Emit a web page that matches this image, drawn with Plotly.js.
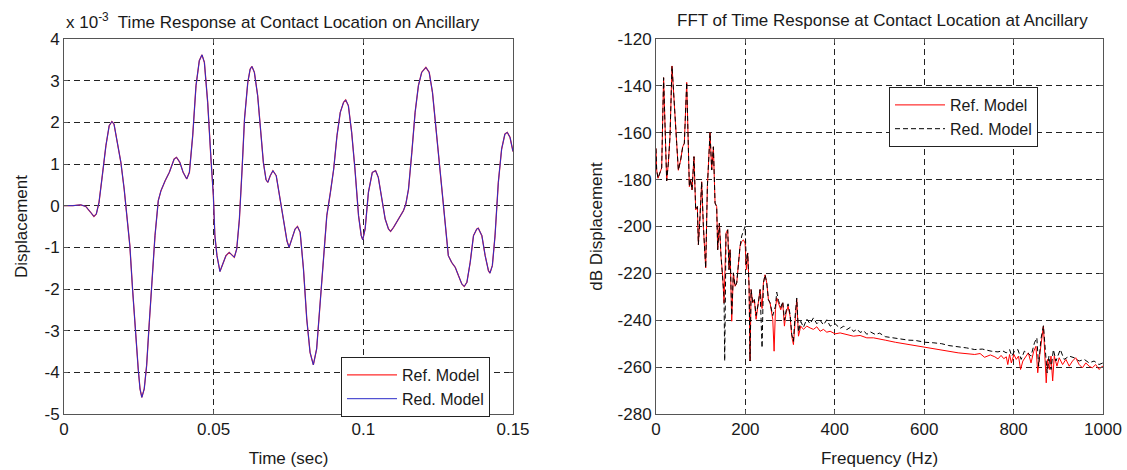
<!DOCTYPE html>
<html>
<head>
<meta charset="utf-8">
<script src="https://cdn.plot.ly/plotly-3.0.1.min.js"></script>
<style>
html,body{margin:0;padding:0;background:#fff;}
#chart{width:1127px;height:470px;}
</style>
</head>
<body>
<div id="chart"></div>
<script>
// ---------- Left panel: time response (values in units of 1e-3) ----------
const timeSec = [0,0.003,0.0056,0.0073,0.0089,0.0100,0.0108,0.0117,0.0128,0.0140,0.0151,0.0160,0.0167,0.0179,0.0190,0.0201,0.0212,0.0220,0.0229,0.0238,0.0248,0.0254,0.0260,0.0268,0.0276,0.0285,0.0294,0.0304,0.0315,0.0324,0.0338,0.0352,0.0368,0.0376,0.0387,0.0398,0.0410,0.0419,0.0430,0.0441,0.0452,0.0461,0.0469,0.0480,0.0491,0.0499,0.0504,0.0511,0.0521,0.0530,0.0541,0.0552,0.0564,0.0569,0.0577,0.0586,0.0595,0.0603,0.0614,0.0622,0.0628,0.0636,0.0647,0.0656,0.0666,0.0675,0.0681,0.0689,0.0698,0.0709,0.0720,0.0731,0.0738,0.0745,0.0752,0.0761,0.0772,0.0780,0.0789,0.0800,0.0811,0.0822,0.0833,0.0844,0.0856,0.0867,0.0878,0.0890,0.0901,0.0912,0.0923,0.0934,0.0941,0.0950,0.0961,0.0972,0.0984,0.0993,0.0998,0.1006,0.1017,0.1030,0.1041,0.1050,0.1062,0.1073,0.1084,0.1091,0.1101,0.1117,0.1134,0.1142,0.1151,0.1162,0.1173,0.1184,0.1195,0.1209,0.1220,0.1231,0.1242,0.1253,0.1264,0.1275,0.1284,0.1295,0.1307,0.1318,0.1329,0.1337,0.1346,0.1357,0.1368,0.1379,0.1384,0.1396,0.1407,0.1418,0.1423,0.1431,0.1440,0.1451,0.1462,0.1473,0.1481,0.1490,0.1500];
const dispRef = [0,0,0.02,-0.02,-0.16,-0.26,-0.20,0.08,0.72,1.44,1.92,2.02,1.96,1.52,1.04,0.40,-0.40,-0.96,-2.00,-2.96,-3.92,-4.40,-4.60,-4.40,-3.84,-2.80,-1.76,-0.72,0.12,0.36,0.60,0.80,1.12,1.16,1.04,0.80,0.64,0.80,1.68,2.88,3.48,3.62,3.44,2.48,1.12,0.24,-0.72,-1.20,-1.58,-1.40,-1.20,-1.12,-1.22,-1.24,-1.04,-0.32,0.88,2.08,2.96,3.28,3.34,3.20,2.64,1.92,1.04,0.62,0.56,0.72,0.84,0.72,0.24,-0.30,-0.50,-0.85,-1.00,-0.80,-0.56,-0.50,-0.64,-1.52,-2.72,-3.52,-3.82,-3.44,-2.32,-1.20,-0.24,0.32,0.88,1.68,2.24,2.48,2.54,2.40,1.76,0.88,-0.24,-0.72,-0.82,-0.56,0.32,0.80,0.84,0.68,0.16,-0.32,-0.56,-0.62,-0.52,-0.32,-0.12,0.04,0.40,1.28,2.24,2.88,3.20,3.32,3.20,2.72,1.92,1.04,0.16,-0.64,-1.20,-1.36,-1.48,-1.68,-1.88,-1.94,-1.84,-1.36,-0.72,-0.56,-0.54,-0.72,-1.20,-1.56,-1.62,-1.44,-0.72,0.56,1.36,1.72,1.76,1.64,1.30];
const dispRed = dispRef.slice(); // reduced model overlays the reference curve

const leftXTicks = [0, 0.05, 0.1, 0.15];
const leftXTickText = ['0', '0.05', '0.1', '0.15'];
const leftYTicks = [-5, -4, -3, -2, -1, 0, 1, 2, 3, 4];
const leftYTickText = ['-5', '-4', '-3', '-2', '-1', '0', '1', '2', '3', '4'];

// ---------- Right panel: FFT ----------
const freqRef = [0,1.5,4.5,9,12.7,17,20,23.9,27.6,31.3,35.8,40.3,46.3,50,55.2,59.7,63.4,68.7,72.4,74.6,77.6,80.6,85,88.8,92.5,94.8,98.5,102.2,106,111.2,114.9,120.9,124.6,128.4,132.1,135.8,138,141.8,145.5,149.3,152.2,156.7,160.4,163.4,165.7,169.4,173.1,176.9,180.6,184.3,188,191.8,195.5,199.3,202.2,205.2,208.2,210.4,212.7,216.4,220.1,223.9,229.1,232.8,237.3,240.3,244,247.8,251.5,255.2,261.2,264.2,267.2,270.1,273.9,279.1,283.6,287.3,291,295.5,300,303.7,307.5,310.4,314.9,318.7,323.9,329.9,337.3,344.8,352.2,359.7,367.2,374.6,382.1,389.6,400.7,411.9,426.9,441.8,456.7,471.6,486.6,501.5,513,535.6,565,600,639,676,713,725,735,743,748,758,765,772,778,783.7,787,791,795,800.7,806,811,815.6,820.7,828,833,839,845,850,854,859,863,866.7,870,873,876,880,883.7,887.4,891,897,902,909.6,917,924.4,931.8,939,946.7,954,961.5,969,976,983.7,991,998.5,1000];
const dbRef = [-166.7,-175.9,-179.4,-177,-175,-136.5,-161.7,-180.5,-173,-161.7,-131.5,-147.5,-164.5,-176,-171.6,-166,-164.5,-138.5,-161.7,-183,-180.1,-184.4,-170.2,-192.9,-191.5,-207.8,-195.7,-180.9,-200,-217.7,-183,-160,-175.9,-166,-190,-191.5,-209.9,-198.6,-212.8,-221.3,-232.6,-202.8,-201.4,-218.4,-209.9,-240.4,-219.8,-225.5,-224.1,-215.6,-208.5,-206.4,-205.7,-207.1,-218.4,-211.3,-225.5,-257.4,-226.9,-232.6,-231.2,-239.6,-232.6,-226.9,-235,-224.1,-220.6,-224.1,-231.2,-232.6,-239.6,-253.2,-235.5,-230.5,-232.6,-235.5,-232.6,-242.5,-236.9,-234,-238.3,-246.8,-250.4,-241.1,-231,-246.8,-242.5,-243.9,-242.5,-243.3,-243.9,-242.8,-244.7,-243.9,-245.1,-244.7,-245.8,-245.4,-246.1,-246.8,-246.5,-247.5,-247.5,-248.2,-248.5,-249.4,-250.4,-251.3,-252.8,-253.9,-254.6,-254.2,-255.8,-255.3,-254.8,-255.6,-256.5,-255,-256.4,-255.6,-258.9,-254.6,-258.2,-254.6,-256.7,-255.3,-261,-257.4,-255.3,-253.9,-258.2,-253.2,-251.1,-262.4,-253.9,-246.8,-242.5,-255.3,-266.7,-256.7,-261,-255.3,-265.9,-255.3,-259.6,-256,-258.9,-256.7,-259.6,-257.4,-256,-258.9,-260.3,-258.2,-259.6,-260.3,-258.9,-261,-259.6,-260];

const freqRed = [0,1.5,4.5,9,12.7,17,20,23.9,27.6,31.3,35.8,40.3,46.3,50,55.2,59.7,63.4,68.7,72.4,74.6,77.6,80.6,85,88.8,92.5,94.8,98.5,102.2,106,111.2,114.9,120.9,124.6,128.4,132.1,135.8,138,141.8,145.5,149.3,152.2,153.7,155,156.7,160.4,163.4,165.7,169.4,173.1,176.9,180.6,184.3,188,191.8,195.5,199.3,202.2,205.2,208.2,210.4,212.7,216.4,220.1,223.9,229.1,232.8,237.3,240.3,244,247.8,251.5,255.2,261.2,264.2,267.2,270.1,273.9,279.1,283.6,287.3,291,295.5,300,303.7,307.5,310.4,314.9,318.7,323.9,329.9,337.3,344.8,352.2,359.7,367.2,374.6,382.1,389.6,400.7,411.9,420,426.9,435,441.8,450,456.7,465,471.6,480,491,500,513,528,545,565,580,602,620,639,655,676,695,713,730,750,765,775,783.7,791,796,802,809.6,817,824,831.6,839,846.7,852,856,861,866.7,871,875,879,883.7,889,894.8,904.4,913,924.4,935.5,946.7,958,969,980,991,1000];
const dbRed = [-166.7,-175.9,-179.4,-177,-175,-136.5,-161.7,-180.5,-173,-161.7,-131.5,-147.5,-164.5,-176,-171.6,-166,-164.5,-138.5,-161.7,-183,-180.1,-184.4,-170.2,-192.9,-191.5,-207.8,-195.7,-180.9,-200,-217.7,-183,-160,-175.9,-166,-190,-191.5,-209.9,-198.6,-212.8,-221.3,-230,-257.4,-215,-202.8,-201.4,-218.4,-209.9,-238,-219.8,-225.5,-224.1,-215.6,-208.5,-204,-202,-200,-216,-211.3,-225.5,-257.4,-226.9,-232.6,-231.2,-238,-232.6,-226.9,-251.8,-224.1,-220.6,-224.1,-231.2,-232.6,-238,-236,-234,-228,-231.5,-234.5,-232,-240,-236,-233,-237.5,-246,-249,-240,-230.5,-245,-240.5,-243,-239.5,-241.5,-239,-241.5,-240,-242,-239.8,-242.5,-241.5,-243.5,-242.5,-244,-243,-244.8,-243.8,-245.2,-244.5,-246,-245,-246.1,-245.5,-247,-247.5,-247.8,-248.5,-248.6,-249.4,-249.6,-250,-250.8,-251.3,-251.8,-252.5,-252.3,-253.2,-253.5,-253,-253.9,-252.5,-255.3,-253.2,-252.5,-256.7,-253.2,-253.9,-255.3,-249.6,-247.5,-259.6,-248.2,-242.3,-252.5,-262.4,-255.3,-261,-252.5,-257.4,-252.5,-256.7,-255.3,-256,-257.4,-256.7,-258.2,-257.4,-258.9,-258.2];

const rightXTicks = [0, 200, 400, 600, 800, 1000];
const rightXTickText = ['0', '200', '400', '600', '800', '1000'];
const rightYTicks = [-280, -260, -240, -220, -200, -180, -160, -140, -120];
const rightYTickText = ['-280', '-260', '-240', '-220', '-200', '-180', '-160', '-140', '-120'];

const FONT = 'Liberation Sans, Arial, Helvetica, sans-serif';
const TXT = '#1a1a1a';

const traces = [
  {x: timeSec, y: dispRef, type: 'scatter', mode: 'lines', name: 'Ref. Model',
   line: {color: '#ff2a2a', width: 1.3}, xaxis: 'x', yaxis: 'y', legend: 'legend'},
  {x: timeSec, y: dispRed, type: 'scatter', mode: 'lines', name: 'Red. Model',
   line: {color: '#2a2ac8', width: 1}, xaxis: 'x', yaxis: 'y', legend: 'legend'},
  {x: freqRef, y: dbRef, type: 'scatter', mode: 'lines', name: 'Ref. Model',
   line: {color: '#ff0000', width: 1}, xaxis: 'x2', yaxis: 'y2', legend: 'legend2'},
  {x: freqRed, y: dbRed, type: 'scatter', mode: 'lines', name: 'Red. Model',
   line: {color: '#000000', width: 1, dash: '5px,3px'}, xaxis: 'x2', yaxis: 'y2', legend: 'legend2'}
];

const W = 1039; // plotting width
function axisBase() {
  return {
    showline: true, mirror: 'allticks', linecolor: '#555', linewidth: 1,
    ticks: 'inside', ticklen: 4, tickcolor: '#555',
    showgrid: true, gridcolor: '#222', gridwidth: 1, griddash: '6px,4px',
    zeroline: false, tickmode: 'array', automargin: true,
    tickfont: {family: FONT, size: 17, color: TXT}
  };
}
const legendBase = {
  bgcolor: '#ffffff', bordercolor: '#222', borderwidth: 1,
  font: {family: FONT, size: 16, color: TXT}, itemwidth: 50, tracegroupgap: 0
};
const layout = {
  width: 1127, height: 470,
  margin: {l: 64, r: 24, t: 39, b: 56},
  paper_bgcolor: '#ffffff', plot_bgcolor: '#ffffff',
  font: {family: FONT, size: 17, color: TXT},
  xaxis: Object.assign(axisBase(), {domain: [0, 449 / W], range: [0, 0.15], anchor: 'y',
    automargin: 'left', tickvals: leftXTicks, ticktext: leftXTickText,
    title: {text: 'Time (sec)', standoff: 13, font: {family: FONT, size: 17, color: TXT}}}),
  yaxis: Object.assign(axisBase(), {domain: [0, 1], range: [-5, 4], anchor: 'x',
    tickvals: leftYTicks, ticktext: leftYTickText,
    title: {text: 'Displacement', standoff: 12, font: {family: FONT, size: 17, color: TXT}}}),
  xaxis2: Object.assign(axisBase(), {domain: [592 / W, 1], range: [0, 1000], anchor: 'y2',
    automargin: 'left', tickvals: rightXTicks, ticktext: rightXTickText,
    title: {text: 'Frequency (Hz)', standoff: 13, font: {family: FONT, size: 17, color: TXT}}}),
  yaxis2: Object.assign(axisBase(), {domain: [0, 1], range: [-280, -120], anchor: 'x2',
    tickvals: rightYTicks, ticktext: rightYTickText,
    title: {text: 'dB Displacement', standoff: 10, font: {family: FONT, size: 17, color: TXT}}}),
  showlegend: true,
  legend: Object.assign({}, legendBase, {x: (490 - 64) / W, xanchor: 'right',
    y: (414 - 357) / 375, yanchor: 'top'}),
  legend2: Object.assign({}, legendBase, {x: (1038 - 64) / W, xanchor: 'right',
    y: (414 - 87) / 375, yanchor: 'top'}),
  annotations: [
    {text: 'x 10<sup>-3</sup>  Time Response at Contact Location on Ancillary',
     xref: 'paper', yref: 'paper', x: 0, xanchor: 'left', y: (414 - 21) / 375, yanchor: 'middle',
     showarrow: false, font: {family: FONT, size: 17, color: TXT}},
    {text: 'FFT of Time Response at Contact Location at Ancillary',
     xref: 'paper', yref: 'paper', x: (882 - 64) / W, xanchor: 'center', y: (414 - 21) / 375, yanchor: 'middle',
     showarrow: false, font: {family: FONT, size: 17, color: TXT}}
  ]
};

Plotly.newPlot('chart', traces, layout, {displayModeBar: false, staticPlot: true});
</script>
</body>
</html>
